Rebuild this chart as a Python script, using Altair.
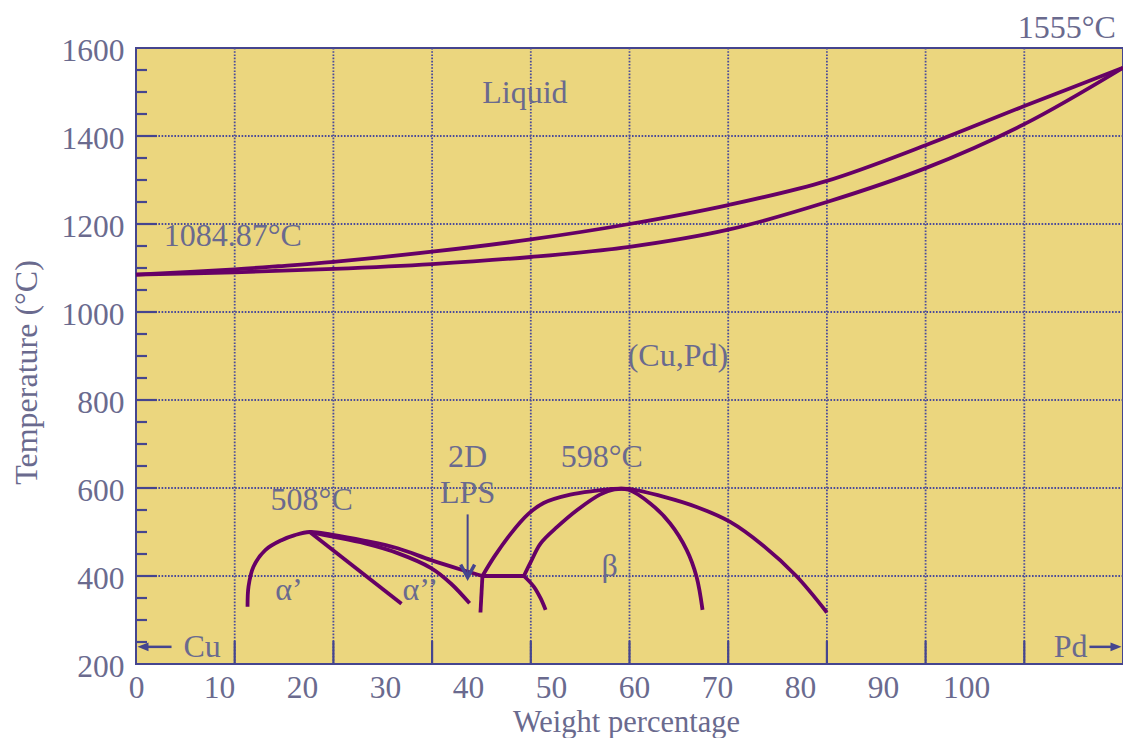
import altair as alt
import pandas as pd

FONT = "Liberation Serif"
TXT = "#6a6a8e"
AXC = "#45458f"
GRIDC = "#4a4a9a"
CURVE = "#660066"
BG = "#ebd67e"
W, H = 987, 616

# ---- phase boundary curves (weight % Pd, temperature °C) ----
liquidus_x = [0, 10, 14.4, 20, 30, 40, 50, 60, 70, 80, 90, 100]
liquidus_t = [1085, 1097, 1104, 1114, 1137, 1165, 1200, 1243, 1298, 1379, 1468, 1555]
solidus_x = [0, 10, 20, 30, 40, 50, 60, 70, 80, 90, 100]
solidus_t = [1085, 1090, 1098, 1109, 1125, 1148, 1187, 1250, 1327, 1427, 1555]
alpha_dome_x = [11.3, 11.4, 11.9, 13.1, 14.8, 16.1, 17.6, 19.8, 23.2, 26.5, 29.9, 33.3, 35.1]
alpha_dome_t = [330, 376, 421, 459, 482, 493, 500, 494, 480, 463, 436, 412, 400]
alpha2_lower_x = [17.6, 19.8, 23.2, 26.5, 29.9, 31.9, 33.8]
alpha2_lower_t = [500, 490, 474, 452, 418, 383, 338]
beta_outer_x = [35.1, 36.3, 38.0, 39.7, 41.3, 44.0, 46.7, 48.2, 49.9, 53.5, 56.8, 60.2, 63.5, 66.9, 70.0]
beta_outer_t = [400, 444, 497, 540, 566, 585, 594, 598, 598, 580, 557, 523, 470, 400, 317]
beta_inner_x = [39.3, 40.0, 41.0, 42.7, 44.7, 47.0, 48.5, 49.9, 52.1, 54.1, 55.8, 56.8, 57.4]
beta_inner_t = [400, 432, 474, 512, 550, 585, 597, 596, 565, 520, 459, 398, 323]
tail_x = [39.3, 40.3, 41.0, 41.5]
tail_t = [400, 376, 349, 323]
# straight segments
alpha_line_x = [17.6, 26.9]
alpha_line_t = [500, 337]
vert_x = [35.1, 34.9]
vert_t = [400, 317]
horiz_x = [35.1, 39.3]
horiz_t = [400, 400]

# ---- axes ----
x_tick_labels = ["0", "10", "20", "30", "40", "50", "60", "70", "80", "90", "100"]
label_step = 8.41
label_pos = [round(i * label_step, 2) for i in range(len(x_tick_labels))]
grid_x = [10, 20, 30, 40, 50, 60, 70, 80, 90]
y_ticks = [200, 400, 600, 800, 1000, 1200, 1400, 1600]
grid_y = [400, 600, 800, 1000, 1200, 1400]
y_minor = [v for v in range(250, 1600, 50) if v % 200 != 0]

# ---- annotations ----
ann_label = ["Liquid", "1084.87°C", "(Cu,Pd)", "2D", "LPS", "598°C", "508°C",
             "α’", "α’’", "β", "1555°C", "Cu", "Pd"]
ann_x = [39.4, 9.8, 54.9, 33.6, 33.6, 47.2, 17.8, 15.5, 28.8, 48.0, 94.3, 6.7, 94.7]
ann_t = [1498, 1173, 900, 670, 589, 670, 573, 368, 368, 423, 1645, 239, 239]

xs = alt.Scale(domain=[0, 100], nice=False, zero=False)
ys = alt.Scale(domain=[200, 1600], nice=False, zero=False)

label_js = "[" + ",".join("'%s'" % s for s in x_tick_labels) + "]"
x_axis = alt.Axis(values=label_pos, labelExpr=label_js + "[round(datum.value / %s)]" % label_step,
                  grid=False, ticks=False, tickSize=0, domain=False,
                  labelFont=FONT, labelFontSize=31.5, labelColor=TXT, labelPadding=33,
                  labelBaseline="alphabetic", labelFlush=False, labelOverlap=False,
                  title="Weight percentage", titleFont=FONT, titleFontSize=30.5,
                  titleFontWeight="normal", titleColor=TXT, titleX=490, titleY=67,
                  titleBaseline="alphabetic", titleAlign="center")
y_axis = alt.Axis(values=y_ticks, format="d", grid=False, ticks=False, tickSize=0, domain=False,
                  labelFont=FONT, labelFontSize=31.5, labelColor=TXT, labelPadding=12,
                  labelOffset=3, labelFlush=False, labelOverlap=False,
                  title="Temperature (°C)", titleFont=FONT, titleFontSize=32,
                  titleFontWeight="normal", titleColor=TXT, titleX=-100, titleY=324,
                  titleAngle=270, titleBaseline="alphabetic", titleAlign="center")


def X(f):
    return alt.X(f, scale=xs, axis=x_axis)


def Y(f):
    return alt.Y(f, scale=ys, axis=y_axis)


def curve_df(pairs):
    rows = []
    for name, xv, tv in pairs:
        for i, (a, b) in enumerate(zip(xv, tv)):
            rows.append({"curve": name, "i": i, "x": a, "t": b})
    return pd.DataFrame(rows)


smooth = curve_df([
    ("liquidus", liquidus_x, liquidus_t),
    ("solidus", solidus_x, solidus_t),
    ("alpha_dome", alpha_dome_x, alpha_dome_t),
    ("alpha2_lower", alpha2_lower_x, alpha2_lower_t),
    ("beta_outer", beta_outer_x, beta_outer_t),
    ("beta_inner", beta_inner_x, beta_inner_t),
    ("tail", tail_x, tail_t),
])
straight = curve_df([
    ("alpha_line", alpha_line_x, alpha_line_t),
    ("vert", vert_x, vert_t),
    ("horiz", horiz_x, horiz_t),
])

gx = pd.DataFrame({"gx": grid_x})
gy = pd.DataFrame({"gy": grid_y})
ym = pd.DataFrame({"ym": y_minor})

grid_v = alt.Chart(gx).mark_rule(color=GRIDC, strokeDash=[1.6, 1.6], strokeWidth=1.8).encode(
    x=X("gx:Q"), y=alt.value(0), y2=alt.value(H))
grid_h = alt.Chart(gy).mark_rule(color=GRIDC, strokeDash=[1.6, 1.6], strokeWidth=1.8).encode(
    y=Y("gy:Q"), x=alt.value(0), x2=alt.value(W))
tick_x = alt.Chart(gx).mark_rule(color=AXC, strokeWidth=2.2).encode(
    x=X("gx:Q"), y=alt.value(H), y2=alt.value(H - 23))
tick_y = alt.Chart(gy).mark_rule(color=AXC, strokeWidth=2.2).encode(
    y=Y("gy:Q"), x=alt.value(0), x2=alt.value(21))
tick_ym = alt.Chart(ym).mark_rule(color=AXC, strokeWidth=2.2).encode(
    y=Y("ym:Q"), x=alt.value(0), x2=alt.value(11))

curves_s = alt.Chart(smooth).mark_line(color=CURVE, strokeWidth=3.8, interpolate="catmull-rom").encode(
    x=X("x:Q"), y=Y("t:Q"), detail="curve:N", order="i:Q")
curves_l = alt.Chart(straight).mark_line(color=CURVE, strokeWidth=3.8).encode(
    x=X("x:Q"), y=Y("t:Q"), detail="curve:N", order="i:Q")

ann = pd.DataFrame({"label": ann_label, "x": ann_x, "t": ann_t})
texts = alt.Chart(ann).mark_text(font=FONT, fontSize=32, color=TXT, align="center",
                                 baseline="middle").encode(
    x=X("x:Q"), y=Y("t:Q"), text="label:N")

# arrows
lps = pd.DataFrame({"x": [33.6], "t1": [540], "t2": [397]})
lps_line = alt.Chart(lps).mark_rule(color=AXC, strokeWidth=2).encode(
    x=X("x:Q"), y=Y("t1:Q"), y2="t2:Q")
lps_head = alt.Chart(lps).mark_point(shape="M-1,-1.8L0,0L1,-1.8", filled=False, size=196,
                                     color=AXC, strokeWidth=3.5, opacity=1).encode(
    x=X("x:Q"), y=Y("t2:Q"))

ends = pd.DataFrame({"x1": [3.6, 96.6], "x2": [0.6, 99.4], "t": [239, 239]})
end_lines = alt.Chart(ends).mark_rule(color=AXC, strokeWidth=2.5).encode(
    x=X("x1:Q"), x2="x2:Q", y=Y("t:Q"))
cu_head = alt.Chart(pd.DataFrame({"x": [0.15], "t": [239]})).mark_point(
    shape="M0,0L2,-0.8L2,0.8Z", filled=True, size=121, color=AXC, opacity=1).encode(
    x=X("x:Q"), y=Y("t:Q"))
pd_head = alt.Chart(pd.DataFrame({"x": [99.85], "t": [239]})).mark_point(
    shape="M0,0L-2,-0.8L-2,0.8Z", filled=True, size=121, color=AXC, opacity=1).encode(
    x=X("x:Q"), y=Y("t:Q"))

chart = alt.layer(
    grid_v, grid_h, tick_x, tick_y, tick_ym, curves_s, curves_l, texts,
    lps_line, lps_head, end_lines, cu_head, pd_head
).properties(
    width=W, height=H,
    padding={"left": 128, "top": 40, "right": 0, "bottom": 74},
    autosize=alt.AutoSizeParams(type="none"),
    background="white",
).configure_view(
    fill=BG, stroke=AXC, strokeWidth=2
)

chart.save("out.html", embed_options={"renderer": "svg", "actions": False})
